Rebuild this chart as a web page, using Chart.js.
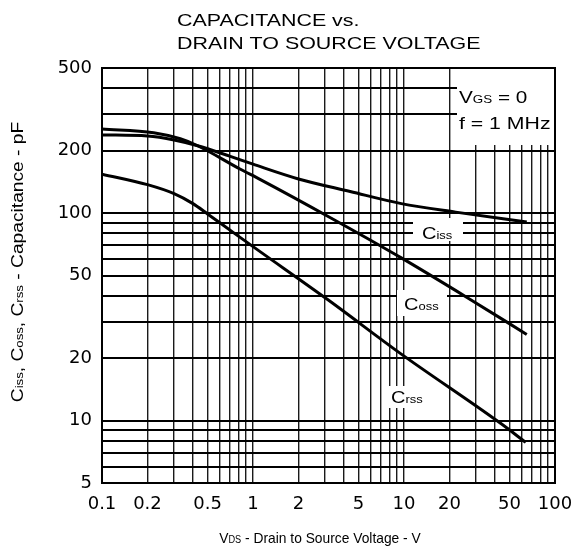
<!DOCTYPE html>
<html>
<head>
<meta charset="utf-8">
<script src="https://cdn.jsdelivr.net/npm/chart.js@4.4.0/dist/chart.umd.min.js"></script>
<style>
  html, body { margin: 0; padding: 0; background: #fff; }
</style>
</head>
<body>
<canvas id="capChart" width="574" height="550"></canvas>
<script>
// values (VDS in V, capacitance in pF)
const cissV  = [0.1, 0.2, 0.3, 0.43, 0.7, 1, 2, 4.4, 9.6, 22, 65];
const cissPF = [238, 235, 225, 211, 188, 172, 146, 127, 111, 101, 90.6];

const cossV  = [0.1, 0.22, 0.33, 0.43, 0.82, 1.12, 3.28, 9.6, 26.3, 65];
const cossPF = [254, 244, 228, 211, 163, 145, 94.7, 60.8, 39.1, 26];

const crssV  = [0.1, 0.2, 0.3, 0.4, 0.5, 0.75, 1.12, 3.12, 9.6, 43.6, 64];
const crssPF = [154, 137, 124, 111, 99, 80, 65, 38.3, 20.9, 9.7, 7.85];

const xTickLabels = [0.1, 0.2, 0.5, 1, 2, 5, 10, 20, 50, 100];
const yTickLabels = [5, 10, 20, 50, 100, 200, 500];

const FONT = '"Liberation Sans", Arial, sans-serif';
const TICK_FONT = '"DejaVu Sans", sans-serif';

// 1..9 per decade grid lines
function decadeGrid(min, max) {
  let out = [];
  for (let e = -3; e <= 4; e++) {
    for (let m = 1; m <= 9; m++) {
      let v = +(m * Math.pow(10, e)).toPrecision(3);
      if (v >= min - 1e-9 && v <= max + 1e-9) out.push(v);
    }
  }
  return out;
}

function pts(xs, ys) {
  return xs.map((x, i) => ({ x: x, y: ys[i] }));
}

// text with smaller "subscript" parts on the same baseline, stretched by sx
function richText(ctx, parts, x, y, align, sx) {
  let w = 0;
  parts.forEach(p => { ctx.font = p[1] + 'px ' + FONT; w += ctx.measureText(p[0]).width; });
  ctx.save();
  ctx.translate(x, y);
  ctx.scale(sx || 1, 1);
  let cx = align === 'center' ? -w / 2 : 0;
  parts.forEach(p => {
    ctx.font = p[1] + 'px ' + FONT;
    ctx.fillText(p[0], cx, 0);
    cx += ctx.measureText(p[0]).width;
  });
  ctx.restore();
}

const decorations = {
  id: 'decorations',
  beforeDatasetsDraw(chart) {
    const ctx = chart.ctx;
    const a = chart.chartArea;
    ctx.save();
    ctx.fillStyle = '#fff';
    ctx.fillRect(457, a.top + 1, a.right - 458, 144 - a.top);   // conditions box
    ctx.fillRect(413, 218, 50, 23);   // Ciss
    ctx.fillRect(397, 290, 50, 26);   // Coss
    ctx.fillRect(385, 386, 40, 22);   // Crss
    ctx.strokeStyle = '#000';
    ctx.lineWidth = 2;
    ctx.strokeRect(a.left, a.top, a.right - a.left, a.bottom - a.top);
    ctx.restore();
  },
  afterDraw(chart) {
    const ctx = chart.ctx;
    ctx.save();
    ctx.fillStyle = '#000';
    ctx.textBaseline = 'alphabetic';
    richText(ctx, [['CAPACITANCE vs.', 17]], 177, 26, 'left', 1.26);
    richText(ctx, [['DRAIN TO SOURCE VOLTAGE', 17]], 177, 49, 'left', 1.26);

    richText(ctx, [['V', 17], ['GS', 11], [' = 0', 17]], 459, 103, 'left', 1.22);
    richText(ctx, [['f = 1 MHz', 17]], 459, 129, 'left', 1.25);

    richText(ctx, [['C', 17], ['iss', 11]], 422, 239, 'left', 1.18);
    richText(ctx, [['C', 17], ['oss', 11]], 404, 310, 'left', 1.18);
    richText(ctx, [['C', 17], ['rss', 11]], 391, 403, 'left', 1.18);

    richText(ctx, [['V', 15], ['DS', 10], [' - Drain to Source Voltage - V', 15]], 320, 543, 'center', 0.92);

    ctx.translate(23, 262);
    ctx.rotate(-Math.PI / 2);
    richText(ctx, [['C', 16], ['iss', 11], [', C', 16], ['oss', 11], [', C', 16], ['rss', 11],
      [' - Capacitance - pF', 16]], 0, 0, 'center', 1.2);
    ctx.restore();
  }
};

const curveStyle = {
  borderColor: '#000',
  borderWidth: 3,
  pointRadius: 0,
  fill: false,
  cubicInterpolationMode: 'monotone'
};

new Chart(document.getElementById('capChart').getContext('2d'), {
  type: 'line',
  data: {
    datasets: [
      Object.assign({ label: 'Ciss', data: pts(cissV, cissPF) }, curveStyle),
      Object.assign({ label: 'Coss', data: pts(cossV, cossPF) }, curveStyle),
      Object.assign({ label: 'Crss', data: pts(crssV, crssPF) }, curveStyle)
    ]
  },
  options: {
    responsive: false,
    animation: false,
    layout: { padding: { top: 68, right: 19, left: 0, bottom: 0 } },
    plugins: { legend: { display: false }, tooltip: { enabled: false } },
    scales: {
      x: {
        type: 'logarithmic',
        min: 0.1, max: 100,
        afterFit: s => { s.height = 67; s.paddingLeft = 0; s.paddingRight = 0; },
        afterBuildTicks: s => { s.ticks = decadeGrid(0.1, 100).map(v => ({ value: v })); },
        grid: { color: '#1a1a1a', lineWidth: 1.4, drawTicks: false },
        border: { color: '#000', width: 2 },
        ticks: {
          color: '#000', padding: 11, maxRotation: 0, autoSkip: false,
          font: { family: TICK_FONT, size: 18 },
          callback: v => xTickLabels.includes(v) ? String(v) : ''
        }
      },
      y: {
        type: 'logarithmic',
        min: 5, max: 500,
        afterFit: s => { s.width = 102; s.paddingTop = 0; s.paddingBottom = 0; },
        afterBuildTicks: s => { s.ticks = decadeGrid(5, 500).map(v => ({ value: v })); },
        grid: { color: '#000', lineWidth: 2, drawTicks: false },
        border: { color: '#000', width: 2 },
        ticks: {
          color: '#000', padding: 10, autoSkip: false,
          font: { family: TICK_FONT, size: 18 },
          callback: v => yTickLabels.includes(v) ? String(v) : ''
        }
      }
    }
  },
  plugins: [decorations]
});
</script>
</body>
</html>
